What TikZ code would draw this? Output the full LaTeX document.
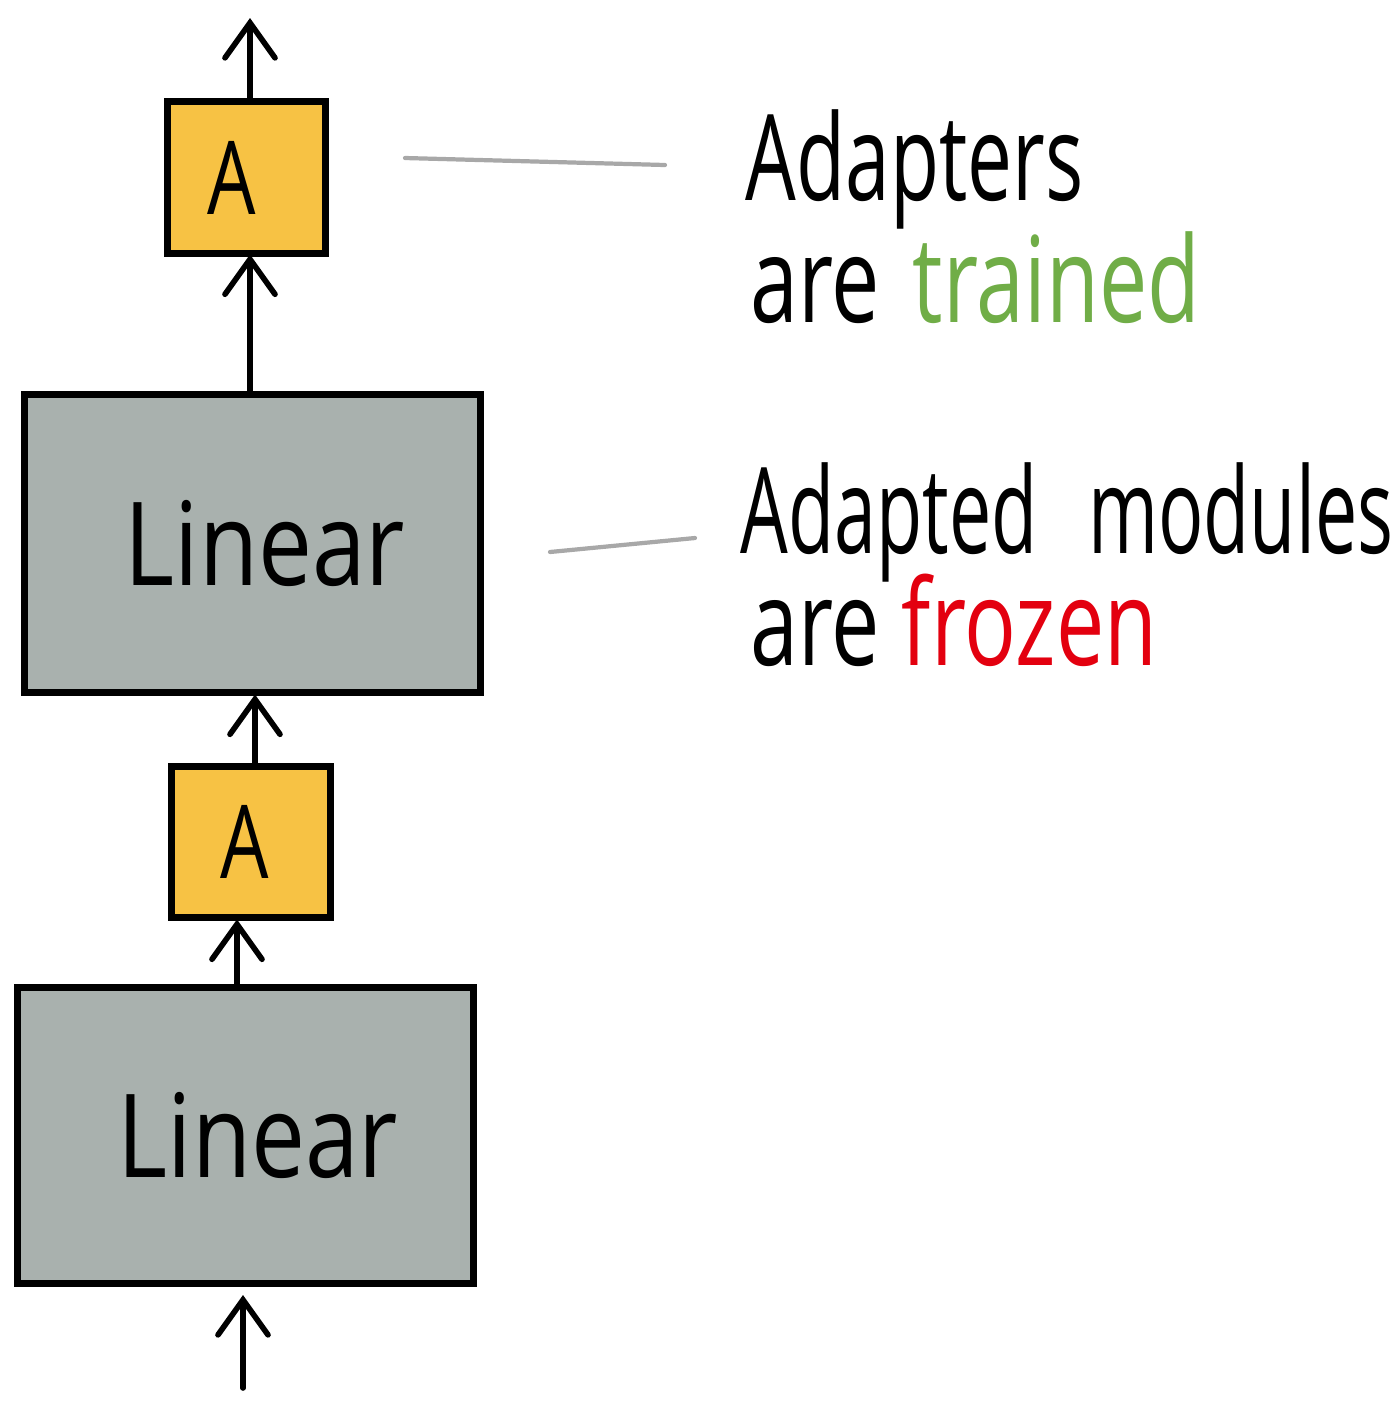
\documentclass[tikz,border=0pt]{standalone}
\usepackage{fontspec}
\setmainfont{Open Sans}
\usetikzlibrary{arrows.meta}
\definecolor{adorange}{HTML}{F7C244}
\definecolor{lingray}{HTML}{A9B1AE}
\definecolor{trgreen}{HTML}{70AD47}
\definecolor{frred}{HTML}{E3000F}
\definecolor{notegray}{HTML}{A8A8A8}
\tikzset{
  adbox/.style={draw=black, fill=adorange, line width=2pt, rectangle, inner sep=0pt, font=\fontsize{29}{36}\selectfont},
  linbox/.style={draw=black, fill=lingray, line width=2pt, rectangle, inner sep=0pt, font=\fontsize{33}{40}\selectfont},
  flow/.style={line width=1.6pt, line cap=round, -{Straight Barb[length=3.5mm,width=5mm,line cap=round]}},
  note/.style={draw=notegray, line width=1.2pt, line cap=round},
  lbl/.style={anchor=base west, inner sep=0pt, font=\fontsize{34}{40}\selectfont},
}
\newcommand{\hsq}[1]{\scalebox{0.75}[1]{#1}}
\begin{document}
\begin{tikzpicture}[x=0.01cm,y=-0.01cm]
\useasboundingbox (0,0) rectangle (1400,1405);
\node[adbox, minimum width=1.57cm, minimum height=1.51cm] (a1) at (246.5,177.5) {\hspace{-0.3cm}\hsq{A}};
\node[linbox, minimum width=4.55cm, minimum height=2.97cm] (l1) at (252.5,543.5) {\hspace{0.25cm}\scalebox{0.83}[1]{Linear}};
\node[adbox, minimum width=1.58cm, minimum height=1.50cm] (a2) at (251,842) {\hspace{-0.12cm}\hsq{A}};
\node[linbox, minimum width=4.55cm, minimum height=2.95cm] (l2) at (245.5,1135.5) {\hspace{0.25cm}\scalebox{0.83}[1]{Linear}};
\coordinate (top) at (250,18);
\coordinate (bot) at (243,1388);
\coordinate (bottip) at (243,1295);
\draw[flow] (a1.north -| top) -- (top);
\draw[flow] (l1.north -| a1.south) ++(3.5,0) -- ++(0,-137);
\draw[flow] (a2.north) ++(4,0) -- ++(0,-69);
\draw[flow] (l2.north) ++(-8.5,0) -- ++(0,-65);
\draw[flow] (bot) -- (bottip);
\coordinate (n1a) at (405,158);
\coordinate (n1b) at (665,165);
\coordinate (n2a) at (550,552);
\coordinate (n2b) at (695,538);
\draw[note] (n1a) -- (n1b);
\draw[note] (n2a) -- (n2b);
\node[lbl] (t1) at (745,200) {\scalebox{0.67}[1]{Adapters}};
\node[lbl] (t2) at (750,322) {\scalebox{0.72}[1]{are\hspace{0.45cm}\textcolor{trgreen}{trained}}};
\node[lbl] (t3) at (740,553) {\scalebox{0.63}[1]{Adapted\hspace{0.8cm}modules}};
\node[lbl] (t4) at (750,665) {\scalebox{0.72}[1]{are\hspace{0.3cm}\textcolor{frred}{frozen}}};
\end{tikzpicture}
\end{document}
